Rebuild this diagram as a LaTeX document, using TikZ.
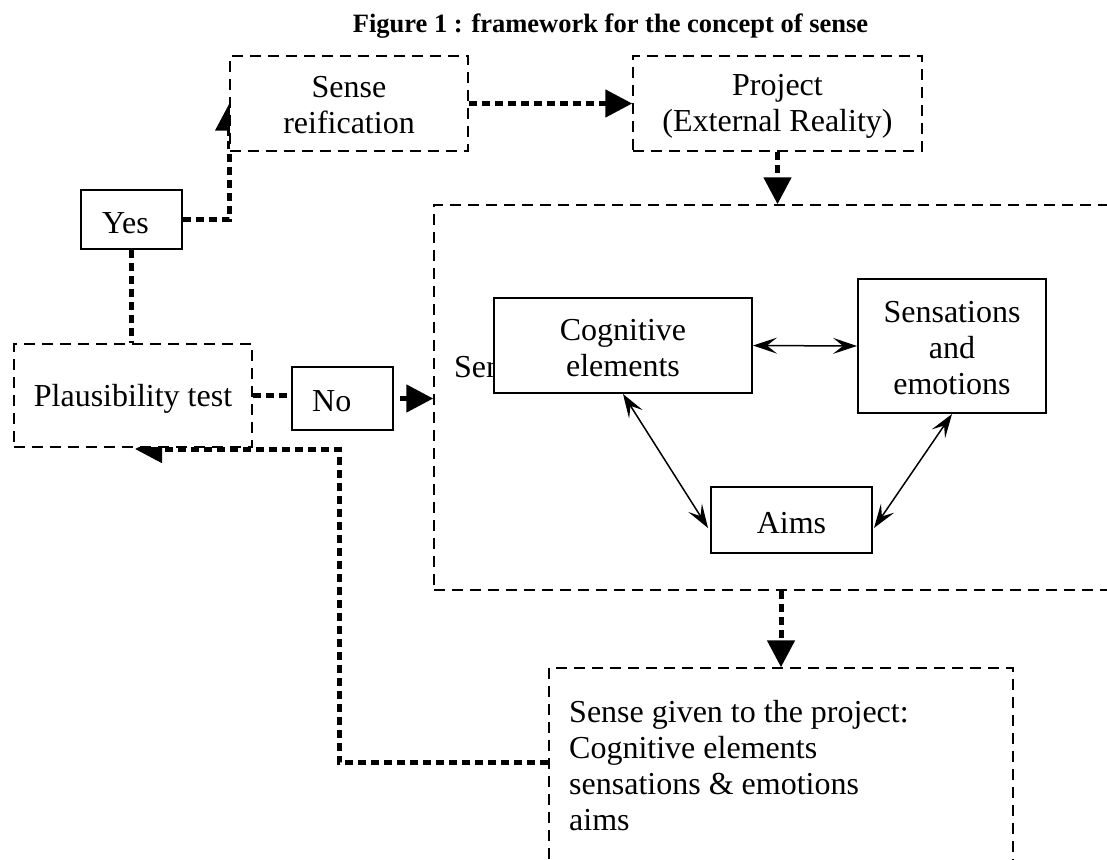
\documentclass[tikz,border=0pt]{standalone}
\usepackage{fontspec}
\setmainfont{Liberation Serif}
\usetikzlibrary{arrows.meta,backgrounds,calc}
\begin{document}
\begin{tikzpicture}[x=1pt,y=-1pt,
  font=\fontsize{32}{36}\selectfont,
  dbox/.style={draw, line width=1.5pt, dash pattern=on 11pt off 7pt, inner sep=0pt},
  sbox/.style={draw, line width=2pt, inner sep=0pt},
  flow/.style={line width=5pt, dash pattern=on 8pt off 5pt, -{Triangle[length=27pt,width=27pt]}},
  flowline/.style={line width=5pt, dash pattern=on 8pt off 5pt},
  rel/.style={line width=1.5pt, {Stealth[length=24pt,width=16pt,inset=10pt]}-{Stealth[length=24pt,width=16pt,inset=10pt]}},
  txt/.style={inner sep=0pt, align=center}]
\useasboundingbox (0,0) rectangle (1107,859);
\clip (0,0) rectangle (1107,859);

\node[txt, anchor=base, font=\fontsize{26.5}{30}\selectfont\bfseries] (title) at (610.5,33) {Figure 1 : framework for the concept of sense};

\node[dbox, fill=white, minimum width=238pt, minimum height=95pt] (sr) at (349,103.5) {};
\node[txt] (srt) at ([yshift=-2pt]sr.center) {Sense\\reification};
\node[dbox, minimum width=289pt, minimum height=95pt] (proj) at (777.5,103.5) {};
\node[txt] (projt) at ([yshift=-2.5pt]proj.center) {Project\\(External Reality)};
\node[dbox, minimum width=766pt, minimum height=385pt] (big) at (817,397.5) {};
\node[txt, anchor=base west] (sensehid) at (454,377) {Sense};
\node[sbox, fill=white, minimum width=258pt, minimum height=95pt] (cog) at (623,345.5) {};
\node[txt] (cogt) at ([yshift=-2.5pt]cog.center) {Cognitive\\elements};
\node[sbox, minimum width=188pt, minimum height=134pt] (sens) at (952,346) {};
\node[txt] (senst) at ([yshift=-2pt]sens.center) {Sensations\\and\\emotions};
\node[sbox, minimum width=161pt, minimum height=66pt] (aims) at (791.5,520) {};
\node[txt] (aimst) at ([yshift=-3pt]aims.center) {Aims};
\node[dbox, fill=white, minimum width=238pt, minimum height=103pt] (plaus) at (133,395.5) {};
\node[txt] (plaust) at ([yshift=-3.5pt]plaus.center) {Plausibility test};
\node[sbox, minimum width=101pt, minimum height=59pt] (yes) at (131.5,219.5) {};
\node[txt, anchor=base west] (yest) at (102,233) {Yes};
\node[sbox, minimum width=101pt, minimum height=63pt] (no) at (342.5,398.5) {};
\node[txt, anchor=base west] (not) at (312,411) {No};
\node[dbox, minimum width=464pt, minimum height=260pt] (sgp) at (781,798) {};
\node[inner sep=0pt, anchor=north west, align=left] (sgptext) at (569,700) {Sense given to the project:\\Cognitive elements\\sensations \& emotions\\aims};

\coordinate (fbstart) at ([yshift=-95pt]sgp.north west);
\coordinate (fbcorner) at (339,449);
\coordinate (fbend) at (135,449);

\begin{scope}[on background layer]
\draw[flow] (sr.east) -- (proj.west);
\draw[flow] (proj.south) -- (proj.south |- big.north);
\draw[flow] (yes.east) -| (sr.west);
\draw[flowline] (yes.south) -- (yes.south |- plaus.north);
\draw[flowline] (plaus.east) -- (plaus.east -| no.west);
\draw[flow, shorten <=6pt] (no.east) -- (no.east -| big.west);
\draw[flow] (sgp.north |- big.south) -- (sgp.north);
\draw[flow] (fbstart) -| (fbcorner) -- (fbend);
\end{scope}

\draw[rel] (cog.south) -- ($(aims.west)+(-2,8)$);
\draw[rel] (cog.east) -- (sens.west);
\draw[rel] (sens.south) -- ($(aims.east)+(1,8)$);
\end{tikzpicture}
\end{document}
